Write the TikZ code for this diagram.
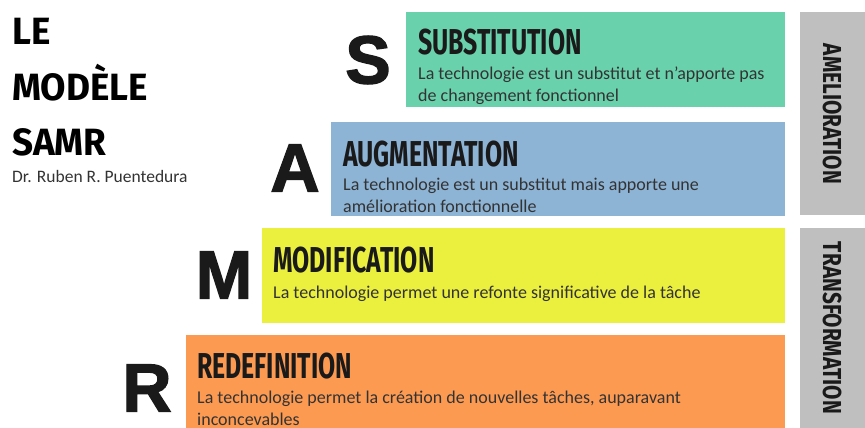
\documentclass[tikz,border=0pt]{standalone}
\usepackage{fontspec}
\setmainfont{Carlito}
\newfontfamily\cond[FakeStretch=0.69]{Fira Sans}
\newfontfamily\vcond[FakeStretch=0.8]{Fira Sans}
\newfontfamily\titlef[FakeStretch=0.97]{Fira Sans}
\newfontfamily\heavy[FakeBold=2]{Liberation Sans}
\definecolor{csub}{HTML}{6AD1AD}
\definecolor{caug}{HTML}{8DB3D5}
\definecolor{cmod}{HTML}{EBEF3E}
\definecolor{cred}{HTML}{FD9A52}
\definecolor{cgray}{HTML}{BFBFBF}
\definecolor{ctxt}{HTML}{1A1A1A}
\definecolor{cbody}{HTML}{333333}
\begin{document}
\begin{tikzpicture}[x=1pt,y=-1pt,
  head/.style={anchor=base west,inner sep=0pt,text=ctxt,font=\cond\bfseries\fontsize{36}{36}\selectfont},
  body/.style={anchor=base west,inner sep=0pt,text=cbody,font=\fontsize{18}{22}\selectfont,align=left},
  letter/.style={inner sep=0pt,text=ctxt,font=\heavy\bfseries\fontsize{68}{68}\selectfont},
  vert/.style={inner sep=0pt,rotate=-90,text=ctxt,font=\vcond\bfseries\fontsize{26}{26}\selectfont},
  ttl/.style={anchor=base west,inner sep=0pt,text=black,font=\titlef\bfseries\fontsize{38}{38}\selectfont}]
\useasboundingbox (0,0) rectangle (865,428);
\fill[white] (0,0) rectangle (865,428);
% bands
\fill[csub] (406,12) rectangle (785,107);
\fill[caug] (331,122) rectangle (785,216);
\fill[cmod] (262,228) rectangle (785,323);
\fill[cred] (186,335) rectangle (785,428);
\fill[cgray] (800,12) rectangle (865,215);
\fill[cgray] (800,228) rectangle (865,428);
% title
\node[ttl] (t1) at (12,45) {LE};
\node[ttl] (t2) at (12,100) {MODÈLE};
\node[ttl] (t3) at (12,155) {SAMR};
\node[anchor=base west,inner sep=0pt,text=cbody,font=\fontsize{17.5}{18}\selectfont] (auth) at (12,182) {Dr. Ruben R. Puentedura};
% letters
\node[letter] (lS) at (368,60) {S};
\node[letter] (lA) at (295,168) {A};
\node[letter] (lM) at (224,275) {M};
\node[letter] (lR) at (147,388) {R};
% headings and descriptions (multi-line nodes are placed by their last baseline)
\node[head] (hS) at (418,55) {SUBSTITUTION};
\node[body] (dS) at (418,102) {La technologie est un substitut et n’apporte pas\\de changement fonctionnel};
\node[head] (hA) at (343,166) {AUGMENTATION};
\node[body] (dA) at (343,212) {La technologie est un substitut mais apporte une\\amélioration fonctionnelle};
\node[head] (hM) at (273,272) {MODIFICATION};
\node[body] (dM) at (273,298) {La technologie permet une refonte significative de la tâche};
\node[head] (hR) at (197,378) {REDEFINITION};
\node[body] (dR) at (197,425) {La technologie permet la création de nouvelles tâches, auparavant\\inconcevables};
% vertical labels
\node[vert] (vA) at (832,114) {AMELIORATION};
\node[vert] (vT) at (832,328) {TRANSFORMATION};
\end{tikzpicture}
\end{document}
